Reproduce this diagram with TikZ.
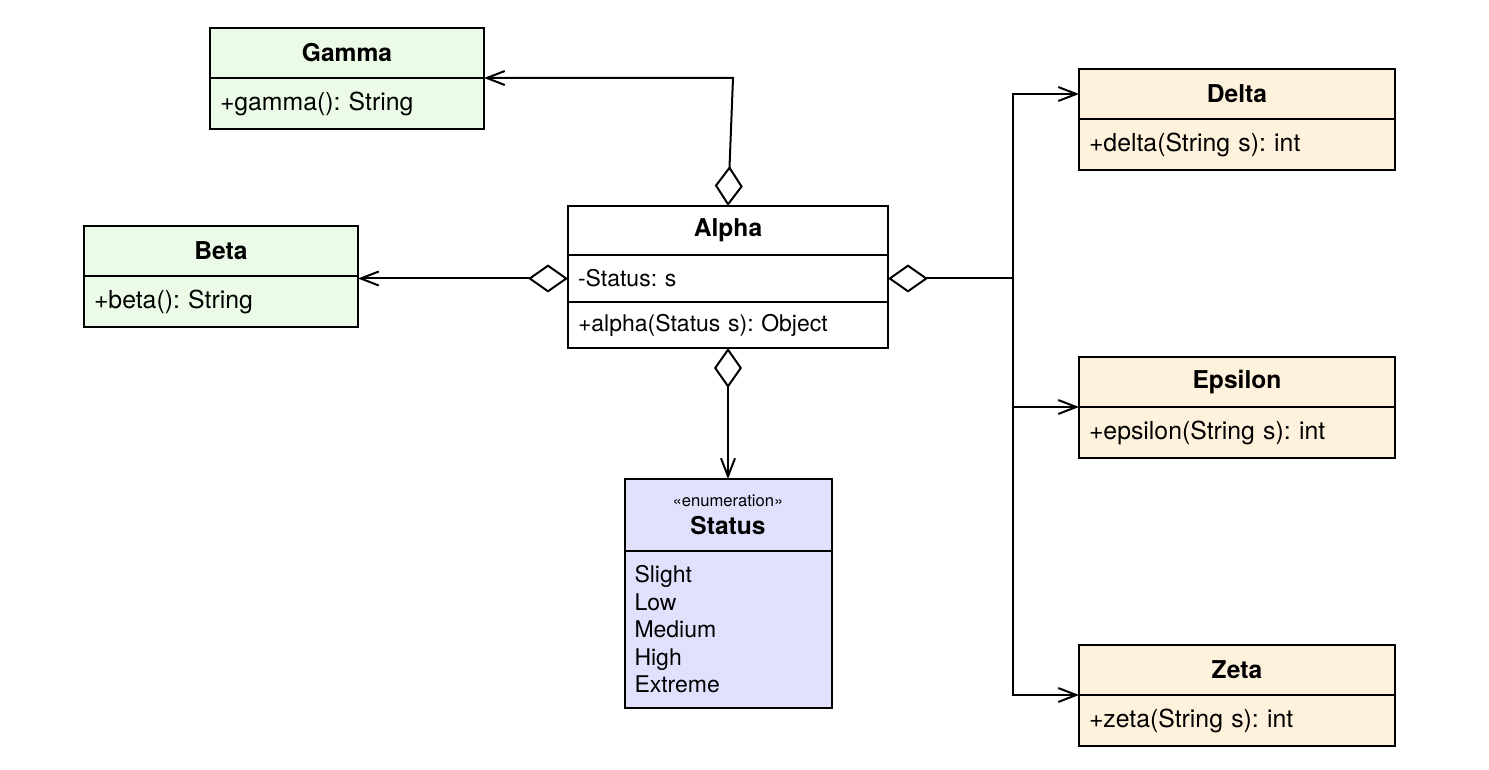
\documentclass[tikz,border=0pt]{standalone}
\usepackage{fontspec}
\setmainfont{TeX Gyre Heros}
\usetikzlibrary{positioning,arrows.meta}
\definecolor{greenfill}{HTML}{EBFBE8}
\definecolor{orangefill}{HTML}{FFF2DC}
\definecolor{enumfill}{HTML}{E1E1FD}
\frenchspacing
\begin{document}
\begin{tikzpicture}[x=0.5pt,y=-0.5pt,
    part/.style={draw,line width=1pt,inner sep=0pt,outer sep=0pt},
    head/.style={part,minimum height=25pt,font=\fontsize{12.3}{14}\bfseries},
    body/.style={part,align=left,inner xsep=5pt,minimum height=25.5pt,
        font=\fontsize{12.4}{14}\selectfont},
    smallbody/.style={body,font=\fontsize{11.5}{13.75}\selectfont},
    agg/.style={line width=1pt,{Diamond[open,length=20pt,width=14pt]}-{Straight Barb[length=9pt,width=7pt]}},
    dep/.style={line width=1pt,-{Straight Barb[length=9pt,width=7pt]}}]

    \useasboundingbox (0,0) rectangle (1489,770);

    \node[head,fill=greenfill,minimum width=137pt] (gamma) at (347,53) {Gamma};
    \node[body,fill=greenfill,text width=127pt,below=0pt of gamma] (gammab) {+gamma(): String};

    \node[head,fill=greenfill,minimum width=137pt] (beta) at (221,251) {Beta};
    \node[body,fill=greenfill,text width=127pt,below=0pt of beta] (betab) {+beta(): String};

    \node[head,fill=white,minimum width=160pt,minimum height=24.5pt] (alpha) at (728,230.5) {Alpha};
    \node[smallbody,fill=white,text width=150pt,minimum height=23.5pt,below=0pt of alpha] (alphaa) {-Status: s};
    \node[smallbody,fill=white,text width=150pt,minimum height=23pt,below=0pt of alphaa] (alphao) {+alpha(Status s): Object};

    \node[head,fill=enumfill,minimum width=103.5pt,minimum height=36pt,align=center] (status) at (728,515)
        {{\fontsize{8.3}{10}\mdseries «enumeration»}\\Status};
    \node[smallbody,fill=enumfill,text width=93.5pt,minimum height=78.5pt,below=0pt of status] (statusb)
        {Slight\\Low\\Medium\\High\\Extreme};

    \node[head,fill=orangefill,minimum width=158pt] (delta) at (1237,94) {Delta};
    \node[body,fill=orangefill,text width=148pt,below=0pt of delta] (deltab) {+delta(String s): int};

    \node[head,fill=orangefill,minimum width=158pt] (epsilon) at (1237,382) {Epsilon};
    \node[body,fill=orangefill,text width=148pt,below=0pt of epsilon] (epsilonb) {+epsilon(String s): int};

    \node[head,fill=orangefill,minimum width=158pt] (zeta) at (1237,670) {Zeta};
    \node[body,fill=orangefill,text width=148pt,below=0pt of zeta] (zetab) {+zeta(String s): int};

    \coordinate (gbend) at (733,78);
    \coordinate (bus) at (1013,278.5);

    \draw[agg] (alpha.north) -- (gbend) -- (gammab.north east);
    \draw[agg] (alphaa.west) -- (alphaa.west -| betab.north east);
    \draw[agg] (alphao.south) -- (status.north);
    \draw[agg] (alphaa.east) -- (bus) |- (delta.west);
    \draw[dep] (bus) |- (epsilonb.north west);
    \draw[dep] (bus) |- (zetab.north west);

\end{tikzpicture}
\end{document}
